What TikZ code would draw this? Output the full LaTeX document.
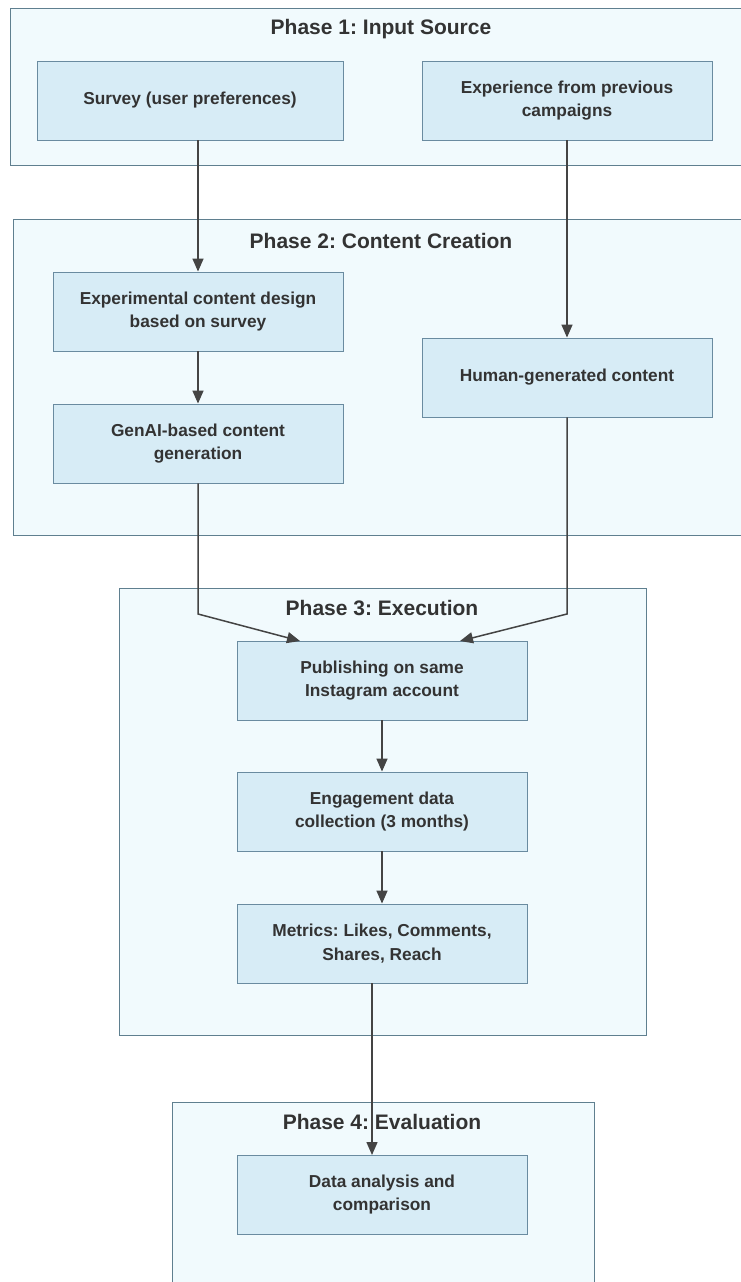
\documentclass[tikz,border=0pt]{standalone}
\usepackage{fontspec}
\setmainfont{Liberation Sans}
\usetikzlibrary{arrows.meta}
\definecolor{phasefill}{HTML}{F1FAFD}
\definecolor{phaseline}{HTML}{5F7F8F}
\definecolor{boxfill}{HTML}{D7ECF6}
\definecolor{boxline}{HTML}{6A8BA0}
\definecolor{txt}{HTML}{333333}
\definecolor{arr}{HTML}{444444}
\frenchspacing
\begin{document}
\begin{tikzpicture}[x=1pt,y=-1pt,
  phase/.style={draw=phaseline, fill=phasefill, line width=0.9pt},
  stepbox/.style={draw=boxline, fill=boxfill, line width=0.9pt, minimum width=290pt, minimum height=79pt, inner sep=0pt, align=center, font=\fontsize{17.3}{23.5}\selectfont\bfseries, text=txt},
  title/.style={font=\fontsize{21}{24}\selectfont\bfseries, text=txt},
  link/.style={draw=arr, line width=1.5pt, -{Triangle[length=13pt,width=11pt]}}]
\useasboundingbox (0,0) rectangle (741,1282);
\clip (0,0) rectangle (741,1282);
% phases
\draw[phase] (10,8) rectangle (760,165);
\draw[phase] (13,219) rectangle (760,535);
\draw[phase] (119,588) rectangle (646,1035);
\draw[phase] (172,1102) rectangle (594,1300);
\node[title] (t1) at (381,29) {Phase 1: Input Source};
\node[title] (t2) at (381,241) {Phase 2: Content Creation};
\node[title] (t3) at (382,608) {Phase 3: Execution};
\node[title] (t4) at (382,1122) {Phase 4: Evaluation};
% boxes
\node[stepbox, minimum width=306pt] (survey) at (190,100.5) {Survey (user preferences)};
\node[stepbox] (exp) at (567,100.5) {Experience from previous\\campaigns};
\node[stepbox] (design) at (198,311.5) {Experimental content design\\based on survey};
\node[stepbox] (genai) at (198,443.5) {GenAI-based content\\generation};
\node[stepbox] (human) at (567,377.5) {Human-generated content};
\node[stepbox] (pub) at (382,680.5) {Publishing on same\\Instagram account};
\node[stepbox] (eng) at (382,811.5) {Engagement data\\collection (3 months)};
\node[stepbox] (met) at (382,943.5) {Metrics: Likes, Comments,\\Shares, Reach};
\node[stepbox] (ana) at (382,1194.5) {Data analysis and\\comparison};
% connectors
\coordinate (g1) at (198,614);
\coordinate (h1) at (567,614);
\coordinate (p1) at (300,641);
\coordinate (p2) at (460,641);
\coordinate (m1) at (372,983);
\coordinate (a1) at (372,1155);
\draw[link] (survey.south -| design.north) -- (design.north);
\draw[link] (exp.south) -- (human.north);
\draw[link] (design.south) -- (genai.north);
\draw[link] (genai.south) -- (g1) -- (p1);
\draw[link] (human.south) -- (h1) -- (p2);
\draw[link] (pub.south) -- (eng.north);
\draw[link] (eng.south) -- (met.north);
\draw[link] (m1) -- (a1);
\end{tikzpicture}
\end{document}
